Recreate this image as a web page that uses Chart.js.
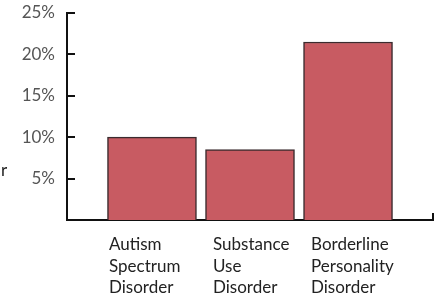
<!DOCTYPE html>
<html>
<head>
<meta charset="utf-8">
<script src="https://cdn.jsdelivr.net/npm/chart.js@4"></script>
<style>
  html, body { margin: 0; padding: 0; background: #fff; }
  #wrap { width: 444px; height: 293px; }
</style>
</head>
<body>
<div id="wrap"><canvas id="barChart" width="444" height="293"></canvas></div>
<script>
const categories = [
    ["Autism", "Spectrum", "Disorder"],
    ["Substance", "Use", "Disorder"],
    ["Borderline", "Personality", "Disorder"]
];
const prevalence = [10, 8.5, 21.5];
const yTicks = [5, 10, 15, 20, 25];

// small marks that point into the plot, plus the stray "r" on the left
const axisMarks = {
    id: 'axisMarks',
    afterDraw(chart) {
        const ctx = chart.ctx;
        const y = chart.scales.y;
        const area = chart.chartArea;
        ctx.save();
        ctx.strokeStyle = '#111';
        ctx.lineWidth = 2;
        yTicks.forEach(function (t) {
            const py = Math.round(y.getPixelForValue(t));
            ctx.beginPath();
            ctx.moveTo(area.left, py);
            ctx.lineTo(area.left + 8, py);
            ctx.stroke();
        });
        ctx.beginPath();
        ctx.moveTo(area.right, area.bottom);
        ctx.lineTo(area.right, area.bottom - 7);
        ctx.stroke();
        ctx.fillStyle = '#222';
        ctx.font = '17px Lato';
        ctx.textBaseline = 'middle';
        ctx.fillText('r', 1, 171);
        ctx.restore();
    }
};

const data = {
    datasets: [{
        label: 'Prevalence',
        data: prevalence.map(function (v, i) { return { x: i, y: v }; }),
        backgroundColor: '#c85b62',
        borderColor: '#3b2b2e',
        borderWidth: 1.5,
        barThickness: 89
    }]
};

const config = {
    type: 'bar',
    data: data,
    options: {
        responsive: false,
        animation: false,
        layout: { padding: { left: 0, right: 11, top: 13, bottom: 0 } },
        plugins: {
            legend: { display: false },
            tooltip: { enabled: false }
        },
        scales: {
            x: {
                type: 'linear',
                min: -0.867,
                max: 2.867,
                offset: false,
                afterBuildTicks: function (scale) {
                    // first label sits a little further left in the original
                    scale.ticks = categories.map(function (c, i) {
                        return { value: i === 0 ? i - 0.061 : i };
                    });
                },
                afterFit: function (scale) {
                    scale.height = 73;
                    scale.paddingLeft = 0;
                    scale.paddingRight = 0;
                },
                grid: { display: false },
                border: { display: true, color: '#111', width: 2 },
                ticks: {
                    autoSkip: false,
                    maxRotation: 0,
                    align: 'start',
                    labelOffset: -37,
                    padding: 6,
                    color: '#222',
                    font: { family: 'Lato', size: 17, lineHeight: 1.27 },
                    callback: function (v, i) { return categories[i]; }
                }
            },
            y: {
                min: 0,
                max: 25,
                afterFit: function (scale) {
                    scale.width = 67;
                    scale.paddingTop = 0;
                    scale.paddingBottom = 0;
                },
                grid: { display: false, drawTicks: false },
                border: { display: true, color: '#111', width: 2 },
                ticks: {
                    stepSize: 5,
                    padding: 12,
                    color: '#555',
                    font: { family: 'Lato', size: 17 },
                    callback: function (v) { return v === 0 ? '' : v + '%'; }
                }
            }
        }
    },
    plugins: [axisMarks]
};

window.onload = function () {
    const ctx = document.getElementById('barChart').getContext('2d');
    new Chart(ctx, config);
};
</script>
</body>
</html>
